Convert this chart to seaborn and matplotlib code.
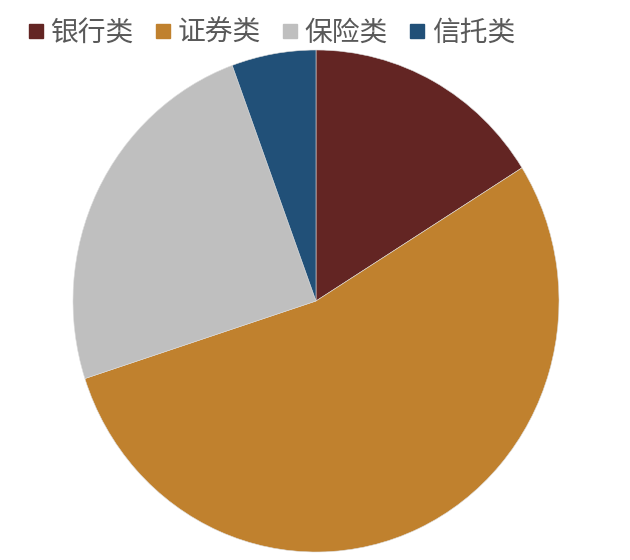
import matplotlib
matplotlib.use("Agg")
import matplotlib.pyplot as plt
import seaborn as sns
from matplotlib.lines import Line2D

# slice data (percent share)
categories = ["银行类", "证券类", "保险类", "信托类"]
shares = [16.1, 53.9, 24.4, 5.6]
colors = ["#632523", "#C0812E", "#BFBFBF", "#215078"]

sns.set_theme(style="white")
plt.rcParams["font.family"] = ["Noto Sans CJK SC", "DejaVu Sans"]

W, H = 630, 560
fig = plt.figure(figsize=(W / 100, H / 100), dpi=100)
# pie box in pixels: x 73..559, y 50..552
ax = fig.add_axes([73 / W, (H - 552) / H, 486 / W, 502 / H])

palette = sns.color_palette(colors)
ax.pie(
    shares,
    colors=palette,
    startangle=90,
    counterclock=False,
    radius=1.0,
    wedgeprops=dict(linewidth=0.4, edgecolor="#dddddd"),
)
ax.set_aspect("auto")
ax.set_xlim(-1, 1)
ax.set_ylim(-1, 1)
ax.axis("off")

handles = [
    Line2D([], [], marker="s", linestyle="", markersize=10.5,
           markerfacecolor=c, markeredgecolor=c)
    for c in colors
]
fig.legend(
    handles,
    categories,
    loc="center left",
    bbox_to_anchor=(28.5 / W, 1 - 33 / H),
    ncol=4,
    frameon=False,
    prop=dict(size=20, weight="medium"),
    labelcolor="#595959",
    handlelength=0.54,
    handletextpad=0.25,
    columnspacing=0.79,
    borderpad=0,
    borderaxespad=0,
)

fig.savefig("out.png", dpi=100, facecolor="white")
